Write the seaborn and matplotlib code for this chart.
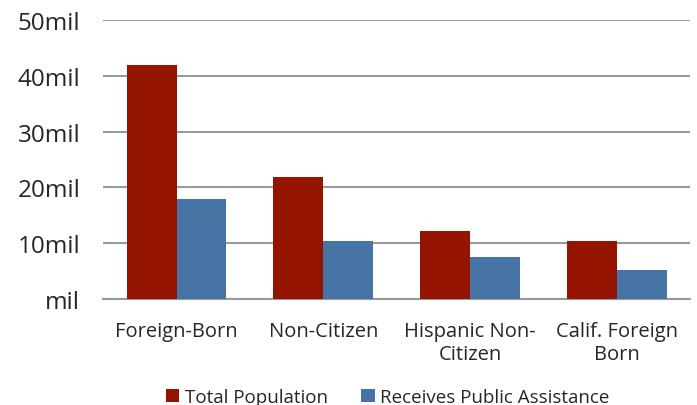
import pandas as pd
import numpy as np
import seaborn as sns
import matplotlib
matplotlib.use("Agg")
import matplotlib.pyplot as plt
from matplotlib.ticker import FixedLocator

# data (millions)
groups = ["Foreign-Born", "Non-Citizen", "Hispanic Non-\nCitizen", "Calif. Foreign\nBorn"]
total_pop = [42.0, 21.9, 12.2, 10.4]
public_assist = [17.9, 10.4, 7.5, 5.2]
series = ["Total Population", "Receives Public Assistance"]
yticks = [0, 10, 20, 30, 40, 50]
ytick_labels = ["mil", "10mil", "20mil", "30mil", "40mil", "50mil"]

df = pd.DataFrame({
    "group": groups * 2,
    "value": total_pop + public_assist,
    "series": [series[0]] * 4 + [series[1]] * 4,
})

sns.set_style("white")
plt.rcParams['font.family'] = ['Open Sans', 'DejaVu Sans']

fig = plt.figure(figsize=(6.97, 4.06), dpi=100)
ax = fig.add_axes([0.148, 0.261, 0.842, 0.687])

ax.yaxis.grid(True, color='#9a9a9a', lw=1.5, zorder=0)
ax.set_axisbelow(True)

sns.barplot(data=df, x="group", y="value", hue="series", order=groups,
            palette=["#951400", "#4674A4"], width=0.68, gap=0,
            saturation=1, linewidth=0, ax=ax, zorder=3)

ax.set_ylim(0, 50)
ax.set_xlim(-0.5, 3.5)
ax.set_yticks(yticks)
ax.set_yticklabels(ytick_labels, fontsize=17.5)
ax.tick_params(axis='y', length=0, pad=16.5)
ax.tick_params(axis='x', which='major', length=0, labelsize=14.5, pad=16)
ax.xaxis.set_minor_locator(FixedLocator([-0.5, 0.5, 1.5, 2.5, 3.5]))
ax.tick_params(axis='x', which='minor', length=5, width=1.5, color='#9a9a9a', direction='out')
ax.set_xlabel('')
ax.set_ylabel('')

for s in ['top', 'right', 'left']:
    ax.spines[s].set_visible(False)
ax.spines['bottom'].set_color('#9a9a9a')
ax.spines['bottom'].set_linewidth(1.5)

for lbl in ax.get_xticklabels():
    lbl.set_linespacing(1.15)

leg = ax.legend(loc='upper center', bbox_to_anchor=(0.485, -0.285), ncol=2,
                frameon=False, fontsize=13.5, handlelength=0.7, handleheight=0.7,
                handletextpad=0.3, columnspacing=1.8, borderpad=0)

fig.savefig('out.png', dpi=100)
